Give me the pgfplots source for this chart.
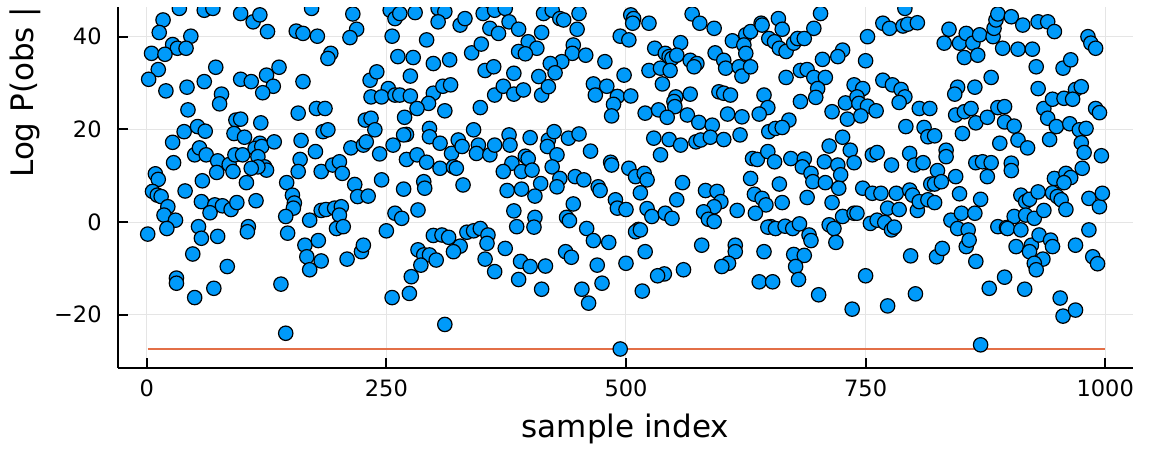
\documentclass[border=0pt]{standalone}
\usepackage{fontspec}
\setmainfont{DejaVu Sans}
\usepackage{pgfplots}
\pgfplotsset{compat=1.18}
\definecolor{jblue}{RGB}{0,154,250}
\definecolor{jred}{RGB}{227,111,71}
\begin{document}
\begin{tikzpicture}
\useasboundingbox (-59pt,-41pt) rectangle (515.5pt,184pt);
\begin{axis}[
  at={(0pt,0pt)}, anchor=south west,
  scale only axis, width=507.5pt, height=180.5pt,
  xmin=-30, xmax=1029, ymin=-31.5, ymax=46.4,
  axis x line*=bottom, axis y line*=left,
  axis line style={line width=0.9pt},
  tick align=inside, major tick length=5pt,
  tick style={black, line width=0.9pt},
  xtick={0,250,500,750,1000}, xticklabels={0,250,500,750,1000},
  ytick={-20,0,20,40}, yticklabels={−20,0,20,40},
  grid=major, grid style={black!10, line width=0.5pt},
  ticklabel style={font=\fontsize{11.25}{13.5}\selectfont},
  xticklabel style={anchor=base, yshift=-14pt, inner sep=0pt},
  yticklabel style={anchor=east, xshift=-8pt, inner sep=0pt},
  label style={font=\fontsize{15.5}{18}\selectfont},
  xlabel={sample index},
  xlabel style={at={(axis description cs:0.5,0)}, anchor=base, yshift=-34.75pt, inner sep=0pt},
  ylabel={Log P(obs | model)},
  ylabel style={at={(axis description cs:-0.0837,0.526)}, anchor=base west, inner sep=0pt},
  clip marker paths=true,
]
\addplot[jred, line width=1pt, mark=none] coordinates {(1,-27.4) (1000,-27.4)};
\addplot[only marks, mark=*, mark size=3.6pt, mark options={fill=jblue, draw=black, line width=0.6pt}] coordinates {
(3,47.5)(34,46.1)(60,45.7)(69,46.1)(98,45.0)(17,43.6)(13,40.9)(46,40.1)(27,38.3)(32,37.5)(41,37.5)(5,36.4)(19,36.2)(72,33.4)(12,32.9)(2,30.8)(60,30.3)(98,30.8)(20,28.3)(42,29.1)(78,27.6)(76,25.5)(43,24.2)(93,22.0)(98,22.2)(39,19.5)(53,20.6)(61,19.6)(91,19.1)(102,18.3)(27,17.2)(28,12.8)(50,14.5)(55,16.0)(62,14.5)(74,13.2)(86,12.4)(90,10.9)(73,10.7)(92,14.5)(100,14.5)(9,10.4)(12,9.2)(6,6.6)(11,5.8)(15,5.5)(22,3.3)(18,1.5)(30,0.4)(21,-1.4)(40,6.7)(58,8.9)(57,4.4)(71,3.7)(66,2.0)(79,3.5)(88,2.7)(94,4.2)(104,8.5)(1,-2.6)(54,-1.0)(57,-3.5)(74,-3.1)(48,-6.9)(84,-9.6)(31,-12.1)(31,-13.2)(70,-14.3)(50,-16.3)
(127,46.8)(137,46.8)(111,43.2)(118,44.7)(126,41.1)(156,41.2)(163,40.7)(178,40.1)(172,46.1)(180,46.5)(193,47.0)(213,46.8)(215,44.9)(219,41.6)(212,39.8)(192,36.4)(189,35.3)(138,33.4)(125,31.7)(132,29.3)(121,27.9)(109,30.3)(163,30.3)(158,23.5)(177,24.5)(186,24.5)(184,19.5)(189,19.9)(119,21.4)(118,17.0)(113,15.9)(120,16.3)(133,17.3)(116,14.1)(123,11.9)(125,11.2)(116,11.9)(109,11.6)(161,17.6)(176,15.2)(160,13.5)(158,10.9)(182,10.9)(194,12.3)(201,13.0)(204,10.5)(146,8.5)(152,5.8)(154,4.1)(153,3.0)(145,1.2)(114,4.6)(106,-1.0)(105,-2.1)(147,-2.4)(170,0.4)(182,2.5)(187,2.7)(196,3.0)(203,3.3)(201,1.5)(198,-1.4)(205,-1.0)(217,8.1)(220,5.5)(231,5.6)(213,16.0)(226,16.6)(229,17.3)(228,22.0)(234,22.4)(233,30.6)(234,27.0)(165,-5.0)(179,-4.0)(167,-7.5)(182,-8.4)(170,-10.3)(209,-8.0)(224,-6.4)(226,-5.0)(140,-13.4)(145,-24.0)
(254,45.7)(259,43.9)(264,45.0)(280,45.2)(304,46.1)(311,45.4)(304,43.2)(318,46.8)(327,42.5)(332,43.9)(351,45.0)(363,45.7)(358,41.8)(367,40.7)(256,40.1)(292,39.3)(262,35.7)(278,35.5)(299,34.2)(316,35.0)(339,36.5)(349,38.4)(353,32.7)(362,33.5)(275,31.5)(252,28.8)(245,27.0)(259,27.4)(264,27.4)(275,27.2)(240,32.4)(299,27.8)(309,29.3)(317,29.6)(294,25.6)(282,24.5)(269,22.6)(311,24.0)(348,24.7)(363,27.4)(238,19.9)(295,20.2)(295,18.4)(271,18.9)(268,18.8)(341,19.9)(257,16.6)(243,14.7)(271,13.5)(282,14.5)(292,12.9)(306,17.0)(306,11.6)(318,14.8)(325,17.7)(329,16.3)(320,11.9)(323,11.6)(346,16.6)(344,14.8)(358,14.5)(363,16.6)(245,9.1)(268,7.1)(289,8.7)(290,7.3)(330,8.0)(283,2.6)(259,1.9)(266,0.8)(250,-1.9)(299,-2.9)(308,-2.8)(315,-3.3)(327,-5.2)(320,-6.4)(334,-2.2)(341,-1.9)(348,-1.4)(356,-2.8)(355,-4.6)(283,-6.0)(289,-7.1)(295,-7.1)(302,-8.2)(286,-9.3)(276,-11.8)(353,-8.0)(363,-10.7)(256,-16.3)(274,-15.4)(311,-22.1)
(374,46.1)(378,43.2)(388,41.6)(414,45.0)(423,45.7)(431,43.9)(435,43.6)(451,45.0)(452,46.8)(412,40.9)(449,41.6)(398,38.9)(407,37.5)(388,36.8)(395,36.3)(445,38.2)(444,36.4)(458,36.0)(433,34.6)(421,34.2)(426,32.2)(409,31.4)(383,32.1)(372,29.3)(383,27.6)(393,28.5)(412,27.4)(419,29.2)(478,34.6)(494,40.1)(498,31.7)(466,29.8)(468,27.4)(480,29.3)(491,27.1)(487,25.4)(485,22.9)(378,18.8)(379,16.6)(400,18.2)(419,17.7)(418,16.3)(425,19.5)(440,18.1)(451,19.0)(463,15.3)(428,14.5)(395,14.2)(398,13.7)(381,12.7)(372,10.9)(391,10.9)(402,11.2)(423,11.9)(431,9.4)(428,7.6)(411,8.3)(447,9.8)(456,9.1)(471,7.6)(473,6.8)(484,12.9)(485,12.3)(376,6.8)(391,7.1)(405,5.6)(383,2.4)(405,1.0)(445,3.9)(438,1.0)(441,0.3)(489,4.8)(491,3.0)(386,-1.0)(374,-5.7)(404,-1.1)(459,-1.4)(466,-4.0)(482,-4.4)(437,-6.4)(443,-7.6)(390,-8.5)(400,-9.6)(416,-9.5)(470,-9.3)(388,-12.4)(412,-14.5)(454,-14.5)(475,-13.2)(461,-17.5)(494,-27.4)
(505,44.7)(508,43.9)(507,42.9)(524,42.9)(569,44.9)(577,42.9)(592,41.8)(503,39.3)(530,37.5)(557,38.7)(541,36.4)(545,35.7)(548,35.3)(553,36.0)(567,34.9)(574,34.2)(571,33.5)(524,32.7)(536,33.2)(546,32.7)(538,29.8)(593,36.5)(602,34.9)(604,33.2)(611,39.1)(625,40.4)(630,41.1)(623,38.2)(625,36.4)(618,33.5)(621,31.5)(630,33.5)(505,27.2)(552,27.0)(550,26.0)(551,24.9)(567,27.6)(597,28.1)(602,27.8)(609,27.4)(520,23.5)(534,24.2)(543,22.6)(564,23.1)(576,21.5)(590,20.9)(606,23.3)(621,22.7)(619,18.8)(529,18.1)(545,17.8)(557,16.6)(573,17.3)(578,17.7)(588,18.3)(602,17.8)(536,14.5)(503,11.6)(510,9.8)(519,10.5)(522,9.1)(515,6.3)(559,8.5)(553,4.8)(500,2.7)(522,2.9)(527,1.2)(541,1.9)(548,0.8)(583,6.8)(595,6.6)(599,4.4)(592,3.3)(581,2.2)(586,0.6)(592,0.1)(616,2.5)(630,9.4)(513,-1.6)(510,-2.1)(515,-1.7)(520,-6.4)(579,-5.0)(614,-5.0)(614,-6.4)(607,-8.9)(600,-9.6)(500,-8.9)(540,-11.2)(533,-11.6)(560,-10.3)(517,-14.9)
(641,42.9)(642,42.5)(659,43.9)(663,41.6)(703,45.0)(696,41.8)(649,39.6)(655,38.9)(660,37.5)(667,36.8)(675,38.6)(679,39.6)(686,39.6)(726,37.1)(721,35.7)(705,35.1)(740,46.5)(757,46.8)(752,40.0)(750,34.8)(667,31.2)(682,32.7)(689,32.9)(696,31.2)(708,31.2)(700,28.8)(698,26.9)(682,26.0)(644,27.4)(648,24.7)(639,23.3)(670,22.0)(649,19.5)(656,20.2)(663,20.4)(715,23.8)(731,22.2)(729,25.7)(738,29.6)(747,28.8)(741,27.0)(743,25.6)(752,25.0)(745,22.9)(761,24.0)(726,18.3)(712,16.4)(734,15.5)(738,12.8)(757,14.5)(762,15.0)(632,13.7)(637,13.5)(648,15.2)(655,13.0)(672,13.7)(686,13.6)(684,11.9)(693,10.5)(695,8.7)(707,13.0)(721,12.3)(724,10.2)(708,8.5)(722,7.3)(660,8.2)(634,6.0)(642,5.1)(646,3.7)(635,1.9)(663,4.2)(689,5.3)(715,4.2)(726,1.2)(738,1.9)(741,1.9)(712,-0.6)(717,-1.4)(719,-4.4)(747,7.3)(757,6.2)(755,-0.3)(762,0.4)(651,-1.0)(648,-1.1)(656,-1.4)(666,-0.9)(674,-1.4)(681,-0.4)(691,-2.8)(693,-4.0)(675,-7.0)(686,-7.2)(677,-9.6)(644,-6.4)(639,-12.9)(653,-12.9)(680,-12.4)(701,-15.7)(750,-11.6)(736,-18.8)
(784,46.5)(791,46.1)(841,46.8)(768,42.9)(775,41.8)(789,42.3)(794,42.7)(804,43.0)(837,41.6)(832,38.6)(848,38.6)(855,40.7)(862,38.6)(869,40.4)(853,35.5)(867,36.0)(883,40.0)(884,41.8)(886,43.6)(888,44.9)(893,37.5)(768,30.6)(778,29.6)(787,28.6)(791,27.0)(785,25.8)(806,24.5)(817,24.5)(846,29.1)(843,27.6)(864,29.1)(881,31.2)(844,23.1)(853,23.8)(860,24.5)(865,21.4)(877,22.6)(888,24.7)(895,21.6)(792,20.6)(811,20.4)(815,18.4)(822,18.6)(851,19.1)(890,17.0)(777,12.3)(796,14.8)(801,12.3)(810,12.8)(825,11.1)(834,15.5)(834,14.1)(844,9.8)(818,8.2)(822,8.2)(829,8.7)(848,6.1)(865,12.8)(872,13.0)(881,12.8)(877,9.8)(766,6.2)(782,6.2)(773,3.0)(785,2.7)(796,6.9)(799,5.8)(804,2.5)(806,4.4)(815,4.8)(822,4.2)(839,0.4)(850,1.9)(864,1.9)(870,4.9)(770,-0.1)(777,-1.7)(780,-1.1)(846,-1.4)(857,-1.7)(855,-5.3)(858,-3.9)(888,-1.0)(897,-1.2)(797,-7.3)(824,-7.5)(830,-5.7)(865,-8.5)(879,-14.3)(895,-11.9)(773,-18.1)(802,-15.5)(870,-26.5)
(905,46.8)(966,46.5)(989,46.6)(902,44.3)(914,42.5)(930,43.2)(940,43.2)(947,41.1)(982,40.0)(985,38.6)(990,37.5)(909,37.3)(924,37.3)(928,33.5)(956,33.2)(964,35.0)(930,28.8)(969,28.6)(975,29.2)(936,24.5)(945,26.5)(957,26.7)(966,26.5)(990,24.5)(994,23.6)(895,24.9)(940,22.4)(949,20.6)(963,21.2)(973,19.9)(980,20.2)(942,17.8)(905,20.7)(909,17.7)(919,16.0)(975,17.1)(978,15.0)(996,14.3)(902,12.7)(902,11.1)(947,9.4)(959,10.5)(964,9.6)(957,8.5)(976,11.6)(912,5.8)(917,4.4)(921,4.9)(930,6.5)(945,6.3)(950,5.5)(954,4.8)(959,2.7)(983,5.1)(994,3.3)(997,6.2)(905,1.2)(917,1.5)(926,0.8)(936,2.5)(898,-1.4)(912,-1.7)(983,-1.7)(907,-5.3)(923,-5.0)(921,-6.4)(931,-2.8)(943,-3.9)(945,-5.3)(969,-5.0)(935,-8.0)(926,-8.9)(928,-10.3)(987,-7.5)(992,-9.0)(916,-14.5)(953,-16.4)(956,-20.3)(969,-19.0)
};
\end{axis}
\end{tikzpicture}
\end{document}
